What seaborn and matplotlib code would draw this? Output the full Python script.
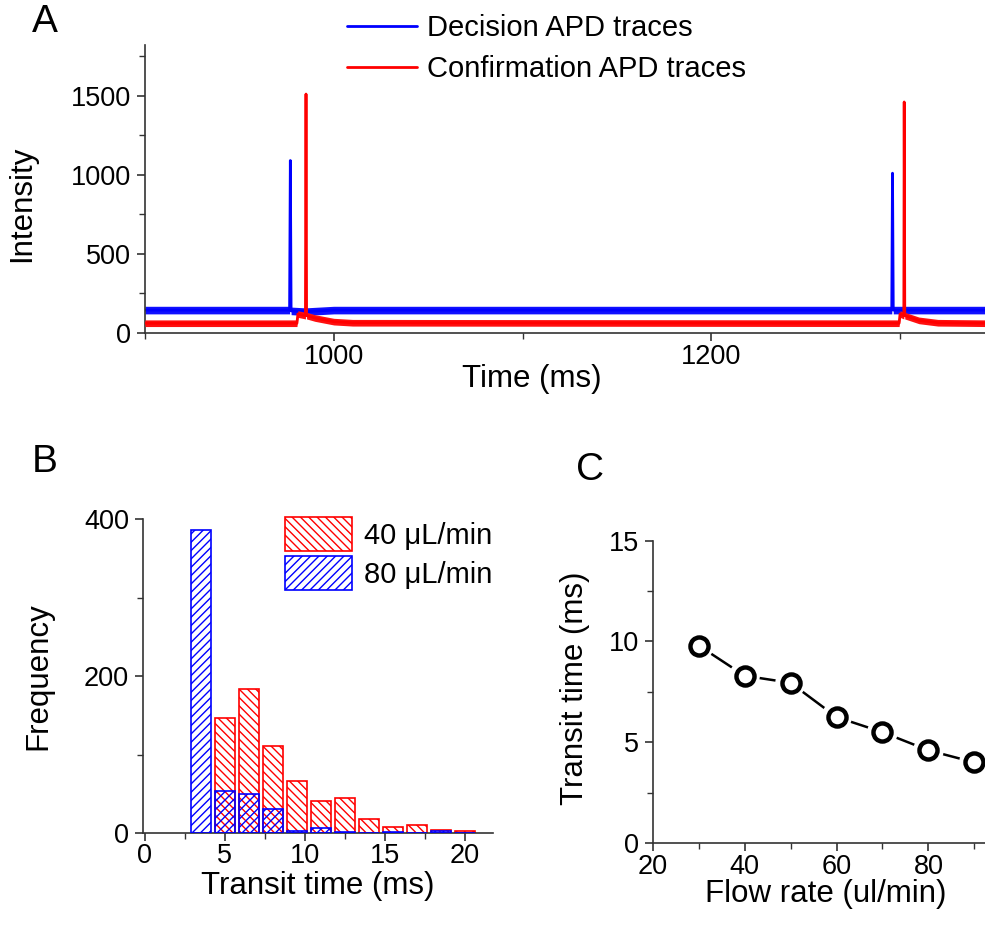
import numpy as np
import pandas as pd
import matplotlib
matplotlib.use("Agg")
import matplotlib.pyplot as plt
import seaborn as sns
from matplotlib.patches import Patch
from matplotlib.lines import Line2D
from matplotlib.ticker import MultipleLocator

sns.set_theme(style="ticks")
plt.rcParams['font.family'] = ['Liberation Sans', 'DejaVu Sans']
plt.rcParams['hatch.linewidth'] = 1.0
plt.rcParams['text.color'] = 'black'
plt.rcParams['axes.labelcolor'] = 'black'
plt.rcParams['xtick.labelcolor'] = 'black'
plt.rcParams['ytick.labelcolor'] = 'black'

# ---- panel A: APD traces (key points of the traces) ----
dec_time = [900, 976.6, 977.0, 977.4, 985, 1000, 1295.6, 1296.0, 1296.4, 1345]
dec_int = [145, 145, 1090, 140, 135, 145, 145, 1010, 145, 145]
conf_time = [900, 980.5, 981.0, 985.0, 985.3, 985.6, 990, 1000, 1010,
             1299.5, 1300.0, 1302.0, 1302.2, 1302.5, 1310, 1320, 1345]
conf_int = [62, 62, 120, 110, 1510, 110, 95, 72, 65,
            62, 120, 110, 1460, 110, 80, 65, 62]

# ---- panel B: transit time histogram ----
bin_centers = [3.5, 5.0, 6.5, 8.0, 9.5, 11.0, 12.5, 14.0, 15.5, 17.0, 18.5, 20.0]
freq_40 = [0, 146, 184, 111, 66, 41, 45, 18, 8, 10, 4, 2]
freq_80 = [386, 53, 50, 31, 3, 6, 1, 0, 1, 0, 3, 0]

# ---- panel C: transit time vs flow rate ----
flow_rate = [30, 40, 50, 60, 70, 80, 90]
transit = [9.8, 8.3, 7.95, 6.25, 5.5, 4.6, 4.0]

AX_COL = '#333333'
TICK_FS = 19.5
LAB_FS = 22.5

fig = plt.figure(figsize=(9.85, 9.3), dpi=100)
axA = fig.add_axes([0.1472, 0.6419, 1.0 - 0.1472, 0.3097])
axB = fig.add_axes([0.1452, 0.1043, 0.3553, 0.3376])
axC = fig.add_axes([0.6626, 0.0935, 1.0 - 0.6626, 0.3251])


def style_axis(ax):
    sns.despine(ax=ax)
    for s in ['left', 'bottom']:
        ax.spines[s].set_color(AX_COL)
        ax.spines[s].set_linewidth(1.2)
    ax.tick_params(which='major', direction='out', length=6, width=1.2,
                   color=AX_COL, labelsize=TICK_FS, pad=4)
    ax.tick_params(which='minor', direction='out', length=4, width=1.0,
                   color=AX_COL)
    ax.tick_params(axis='x', which='major', pad=2)


# A
dec = pd.DataFrame({'t': dec_time, 'v': dec_int})
conf = pd.DataFrame({'t': conf_time, 'v': conf_int})
noise_dec, noise_conf = 24, 21
axA.fill_between(dec['t'], dec['v'] - noise_dec, dec['v'] + noise_dec,
                 color='#1010ff', lw=0, zorder=2)
axA.fill_between(conf['t'], conf['v'] - noise_conf, conf['v'] + noise_conf,
                 color='#ff1010', lw=0, zorder=3)
sns.lineplot(data=dec, x='t', y='v', ax=axA, color='#0000ff', lw=2,
             estimator=None, sort=False, zorder=2)
sns.lineplot(data=conf, x='t', y='v', ax=axA, color='#ff0000', lw=2,
             estimator=None, sort=False, zorder=3)
axA.set_xlim(900, 1345)
axA.set_ylim(0, 1820)
axA.xaxis.set_major_locator(MultipleLocator(200))
axA.xaxis.set_minor_locator(MultipleLocator(100))
axA.yaxis.set_major_locator(MultipleLocator(500))
axA.yaxis.set_minor_locator(MultipleLocator(250))
style_axis(axA)
axA.set_xlabel('Time (ms)', fontsize=LAB_FS)
axA.set_ylabel('Intensity', fontsize=LAB_FS)
axA.xaxis.set_label_coords(0.46, -0.108)
axA.yaxis.set_label_coords(-0.128, 0.45)
handlesA = [Line2D([], [], color='#0000ff', lw=2), Line2D([], [], color='#ff0000', lw=2)]
fig.legend(handlesA, ['Decision APD traces', 'Confirmation APD traces'],
           loc='upper left', bbox_to_anchor=(347 / 985, 1 - 14 / 930),
           frameon=False, fontsize=21, handlelength=2.4, handletextpad=0.35,
           labelspacing=0.45, borderpad=0, borderaxespad=0)

# B
sns.barplot(x=bin_centers, y=freq_40, ax=axB, native_scale=True, width=1.25 / 1.5,
            fill=False, color='#ff0000', hatch='\\\\\\\\', linewidth=1.2,
            errorbar=None, zorder=2)
sns.barplot(x=bin_centers, y=freq_80, ax=axB, native_scale=True, width=1.25 / 1.5,
            fill=False, color='#0000ff', hatch='////', linewidth=1.2,
            errorbar=None, zorder=3)
axB.set_xlim(-0.1, 21.75)
axB.set_ylim(0, 400)
axB.xaxis.set_major_locator(MultipleLocator(5))
axB.xaxis.set_minor_locator(MultipleLocator(2.5))
axB.yaxis.set_major_locator(MultipleLocator(200))
axB.yaxis.set_minor_locator(MultipleLocator(100))
style_axis(axB)
axB.tick_params(axis='x', which='major', pad=1)
axB.set_xlabel('Transit time (ms)', fontsize=LAB_FS)
axB.set_ylabel('Frequency', fontsize=LAB_FS)
axB.xaxis.set_label_coords(0.5, -0.122)
axB.yaxis.set_label_coords(-0.257, 0.5)
handlesB = [Patch(facecolor='none', edgecolor='#ff0000', hatch='\\\\\\\\', lw=1.2),
            Patch(facecolor='none', edgecolor='#0000ff', hatch='////', lw=1.2)]
axB.legend(handlesB, ['40 μL/min', '80 μL/min'], loc='upper left',
           bbox_to_anchor=((285 - 143) / 350, 1.008), frameon=False, fontsize=21,
           handlelength=2.3, handleheight=1.45, handletextpad=0.4,
           labelspacing=0.15, borderpad=0, borderaxespad=0)

# C
dfC = pd.DataFrame({'flow': flow_rate, 'transit': transit})
sns.lineplot(data=dfC, x='flow', y='transit', ax=axC, color='black', lw=1.8,
             zorder=2)
sns.scatterplot(data=dfC, x='flow', y='transit', ax=axC, s=22 ** 2,
                color='white', edgecolor='none', zorder=3, clip_on=False)
axC.plot(dfC['flow'], dfC['transit'], ls='none', marker='o', ms=13,
         mfc='white', mec='black', mew=3.2, zorder=4, clip_on=False)
axC.set_xlim(20, 92.3)
axC.set_ylim(0, 15)
axC.xaxis.set_major_locator(MultipleLocator(20))
axC.xaxis.set_minor_locator(MultipleLocator(10))
axC.yaxis.set_major_locator(MultipleLocator(5))
axC.yaxis.set_minor_locator(MultipleLocator(2.5))
style_axis(axC)
axC.set_xlabel('Flow rate (ul/min)', fontsize=LAB_FS)
axC.set_ylabel('Transit time (ms)', fontsize=LAB_FS)
axC.xaxis.set_label_coords(0.52, -0.12)
axC.yaxis.set_label_coords(-0.19, 0.513)

# panel letters
for letter, x, y in [('A', 45, 22), ('B', 45, 462), ('C', 590, 470)]:
    fig.text(x / 985, 1 - y / 930, letter, fontsize=28, ha='center', va='center')

fig.savefig('out.png', dpi=100)
